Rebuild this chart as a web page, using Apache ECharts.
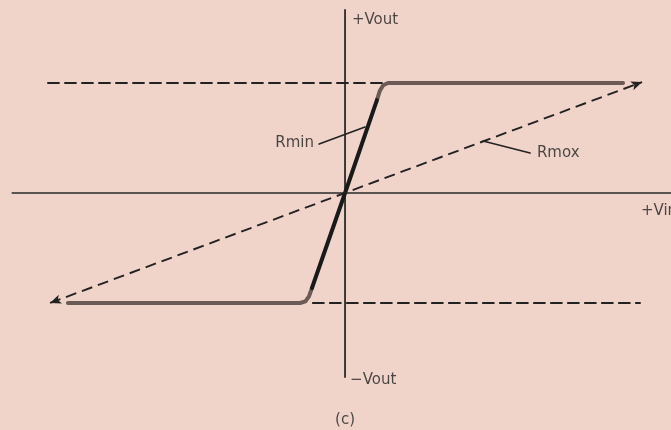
<!DOCTYPE html>
<html>
<head>
<meta charset="utf-8">
<script src="https://cdn.jsdelivr.net/npm/echarts@6/dist/echarts.min.js"></script>
<style>
  html, body { margin: 0; padding: 0; background: #f0d4ca; }
  #chart { width: 671px; height: 430px; }
</style>
</head>
<body>
<div id="chart"></div>
<script>
// units: x = Vin (1 = saturation knee of Rmax), y = Vout (1 = saturation)
const xRange = [-1.158, 1.094]
const yRange = [-2.155, 1.755]

// axes drawn as plain segments (they stop short of the frame)
const vinAxis = [[-1.117, 0], [1.094, 0]]
const voutAxis = [[0, 1.664], [0, -1.673]]

// Rmin transfer curve (steep part, then knee + flat saturation)
const rminSteep = [[-0.111, -0.864], [0, 0], [0.107, 0.845]]
const rminTop = [[0.107, 0.845], [0.117, 0.93], [0.128, 0.98], [0.144, 1.0], [0.933, 1.0]]
const rminBottom = [[-0.111, -0.864], [-0.121, -0.94], [-0.133, -0.985], [-0.151, -1.0], [-0.930, -1.0]]

// saturation levels (dashed)
const satTop = [[-0.997, 1.0], [0.144, 1.0]]
const satBottom = [[-0.108, -1.0], [0.990, -1.0]]

// Rmax line, arrow at both ends
const rmaxLine = [[-0.990, -1.0], [0.997, 1.009]]

// leader lines
const rminLeader = [[-0.087, 0.445], [0.067, 0.60]]
const rmaxLeader = [[0.463, 0.473], [0.621, 0.364]]

const labels = [
    { name: '+Vout', value: [0.023, 1.573], align: 'left' },
    { name: '\u2212Vout', value: [0.017, -1.70], align: 'left' },
    { name: '+Vin', value: [0.993, -0.164], align: 'left' },
    { name: '(c)', value: [0, -2.064], align: 'center' },
    { name: 'Rmin', value: [-0.104, 0.455], align: 'right' },
    { name: 'Rmox', value: [0.644, 0.364], align: 'left' },
]

const ink = '#222'
const dash = [11, 6]

function seg(data, color, width, type) {
    return {
        type: 'line',
        data: data,
        showSymbol: false,
        symbol: 'none',
        silent: true,
        lineStyle: { color: color, width: width, type: type || 'solid', cap: 'round', join: 'round' },
    }
}

const chart = echarts.init(document.getElementById('chart'))
chart.setOption({
    animation: false,
    backgroundColor: '#f0d4ca',
    grid: { left: 0, right: 0, top: 0, bottom: 0 },
    xAxis: { type: 'value', min: xRange[0], max: xRange[1], show: false },
    yAxis: { type: 'value', min: yRange[0], max: yRange[1], show: false },
    series: [
        seg(vinAxis, '#2a2a2a', 1.6),
        seg(voutAxis, '#2a2a2a', 1.8),
        seg(satTop, ink, 1.9, dash),
        seg(satBottom, ink, 1.9, dash),
        {
            type: 'line',
            data: [],
            markLine: {
                silent: true,
                symbol: ['arrow', 'arrow'],
                symbolSize: [7, 11],
                label: { show: false },
                lineStyle: { color: ink, width: 1.9, type: dash },
                data: [[{ coord: rmaxLine[0] }, { coord: rmaxLine[1] }]],
            },
        },
        seg(rminTop, '#6b5a55', 4),
        seg(rminBottom, '#6b5a55', 4),
        seg(rminSteep, '#1a1a1a', 4),
        seg(rminLeader, ink, 1.6),
        seg(rmaxLeader, ink, 1.6),
        {
            type: 'scatter',
            symbolSize: 0,
            silent: true,
            data: labels.map(d => ({
                name: d.name,
                value: d.value,
                label: {
                    show: true,
                    position: 'inside',
                    formatter: d.name,
                    align: d.align,
                    verticalAlign: 'middle',
                    color: '#1f1f1f',
                    fontFamily: 'DejaVu Sans',
                    fontSize: 15,
                },
            })),
        },
    ],
})
</script>
</body>
</html>
